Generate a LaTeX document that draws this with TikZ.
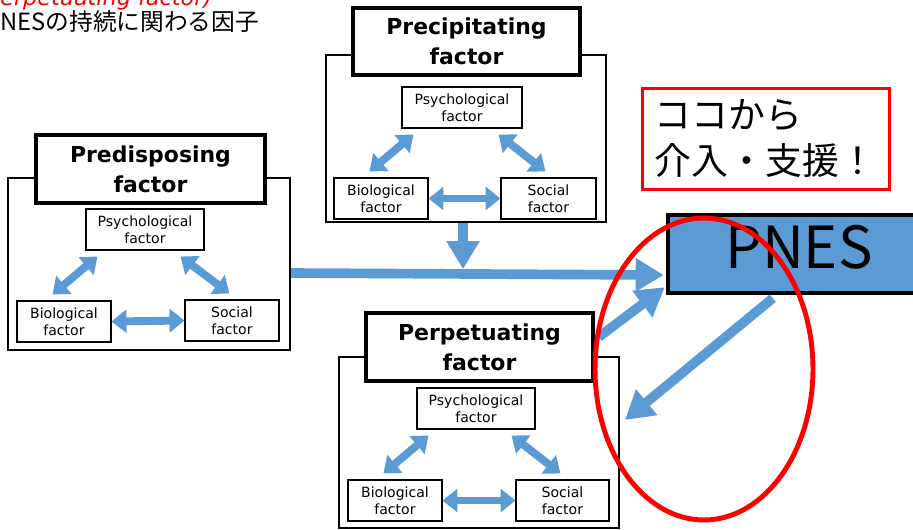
\documentclass[tikz,border=0pt]{standalone}
\usepackage{fontspec}
\setmainfont{DejaVu Sans}
\newfontfamily\jpfont{Noto Sans CJK JP}
\usetikzlibrary{arrows.meta,fit,calc,shapes.geometric}
\definecolor{pblue}{HTML}{5B9BD5}
\begin{document}
\begin{tikzpicture}[x=0.02cm,y=-0.02cm,
  frame/.style={draw=black,line width=1.3pt,inner sep=0pt},
  titlebox/.style={draw=black,line width=2pt,fill=white,inner sep=0pt},
  titletext/.style={inner sep=0pt,align=center,font=\fontsize{12.5}{17}\selectfont\bfseries},
  factorbox/.style={draw=black,line width=0.6pt,fill=white,inner sep=0pt},
  factortext/.style={inner sep=0pt,align=center,font=\fontsize{8}{9.6}\selectfont},
  dbl/.style={pblue,line width=4.5pt,{Triangle[width=13pt,length=8.5pt]}-{Triangle[width=13pt,length=8.5pt]}},
  big/.style={pblue,line width=5.5pt,-{Triangle[width=18pt,length=16pt]}},
]
\useasboundingbox (0,0) rectangle (913,529);

% top texts
\node[anchor=base west,inner sep=0pt,text=red,font=\fontsize{12.7}{14}\selectfont\itshape] (rt) at (0,5) {erpetuating factor)};
\node[anchor=west,inner sep=0pt,font=\jpfont\fontsize{13.5}{16}\selectfont] (jt) at (0,22) {NESの持続に関わる因子};

% Predisposing
\node[frame,fit={(8,178)(290,350)}] (pdOut) {};
\node[titlebox,fit={(36,135)(265,203)}] (pdTitle) {};
\node[titletext] (pdTitleT) at (pdTitle.center) {Predisposing\\factor};
\node[factorbox,fit={(86,209)(204,250)}] (pdPsy) {};
\node[factorbox,fit={(17,301)(111,342)}] (pdBio) {};
\node[factorbox,fit={(185,300)(279,341)}] (pdSoc) {};
\node[factortext] (pdPsyT) at (pdPsy.center) {Psychological\\factor};
\node[factortext] (pdBioT) at (pdBio.center) {Biological\\factor};
\node[factortext] (pdSocT) at (pdSoc.center) {Social\\factor};
\draw[dbl] ($(pdPsy.south west)+(12,6)$) -- ($(pdBio.north west)+(36,-6)$);
\draw[dbl] ($(pdPsy.south east)+(-24,6)$) -- ($(pdSoc.north west)+(45,-6)$);
\draw[dbl] (pdBio.east) -- (pdSoc.west);

% Precipitating
\node[frame,fit={(326,55)(606,222)}] (prOut) {};
\node[titlebox,fit={(353,8)(580,75)}] (prTitle) {};
\node[titletext] (prTitleT) at (prTitle.center) {Precipitating\\factor};
\node[factorbox,fit={(402,87)(522,128)}] (prPsy) {};
\node[factorbox,fit={(334,178)(428,219)}] (prBio) {};
\node[factorbox,fit={(501,178)(596,219)}] (prSoc) {};
\node[factortext] (prPsyT) at (prPsy.center) {Psychological\\factor};
\node[factortext] (prBioT) at (prBio.center) {Biological\\factor};
\node[factortext] (prSocT) at (prSoc.center) {Social\\factor};
\draw[dbl] ($(prPsy.south west)+(12,6)$) -- ($(prBio.north west)+(36,-6)$);
\draw[dbl] ($(prPsy.south east)+(-24,6)$) -- ($(prSoc.north west)+(45,-6)$);
\draw[dbl] (prBio.east) -- (prSoc.west);

% Perpetuating
\node[frame,fit={(339,357)(619,528)}] (ppOut) {};
\node[titlebox,fit={(366,313)(593,381)}] (ppTitle) {};
\node[titletext] (ppTitleT) at (ppTitle.center) {Perpetuating\\factor};
\node[factorbox,fit={(417,388)(535,429)}] (ppPsy) {};
\node[factorbox,fit={(348,480)(442,521)}] (ppBio) {};
\node[factorbox,fit={(516,480)(609,521)}] (ppSoc) {};
\node[factortext] (ppPsyT) at (ppPsy.center) {Psychological\\factor};
\node[factortext] (ppBioT) at (ppBio.center) {Biological\\factor};
\node[factortext] (ppSocT) at (ppSoc.center) {Social\\factor};
\draw[dbl] ($(ppPsy.south west)+(12,6)$) -- ($(ppBio.north west)+(36,-6)$);
\draw[dbl] ($(ppPsy.south east)+(-24,6)$) -- ($(ppSoc.north west)+(45,-6)$);
\draw[dbl] (ppBio.east) -- (ppSoc.west);

% PNES
\node[fit={(668,215)(932,293)},inner sep=0pt,draw=black,line width=2.5pt,fill=pblue] (pnes) {};
\node[inner sep=0pt,font=\jpfont\fontsize{33}{36}\selectfont] (pnesT) at ($(pnes.center)+(-1,-7)$) {PNES};

% red message box
\node[fit={(642,88)(889,189)},inner sep=0pt,draw=red,line width=1.7pt] (msg) {};
\node[inner sep=0pt,align=left,font=\jpfont\fontsize{21}{26}\selectfont] (msgT) at (msg.center) {ココから\\介入・支援！};

% big arrows
\draw[big] ($(pdOut.east)+(0,9)$) -- ($(pnes.west)+(-2,21)$);
\draw[big] ($(prOut.south)+(-3,0)$) -- ($(prOut.south)+(-3,46)$);
\draw[big] ($(ppTitle.east)+(4,-10)$) -- ($(pnes.south west)+(-1,-8)$);

% highlight ellipse
\node[ellipse,draw=red,line width=2.8pt,minimum width=4.36cm,minimum height=6.04cm,inner sep=0pt] (hl) at (704,369) {};
\draw[big] ($(pnes.south west)+(107,3)$) -- ($(hl.center)+(-79,51)$);
\end{tikzpicture}
\end{document}
